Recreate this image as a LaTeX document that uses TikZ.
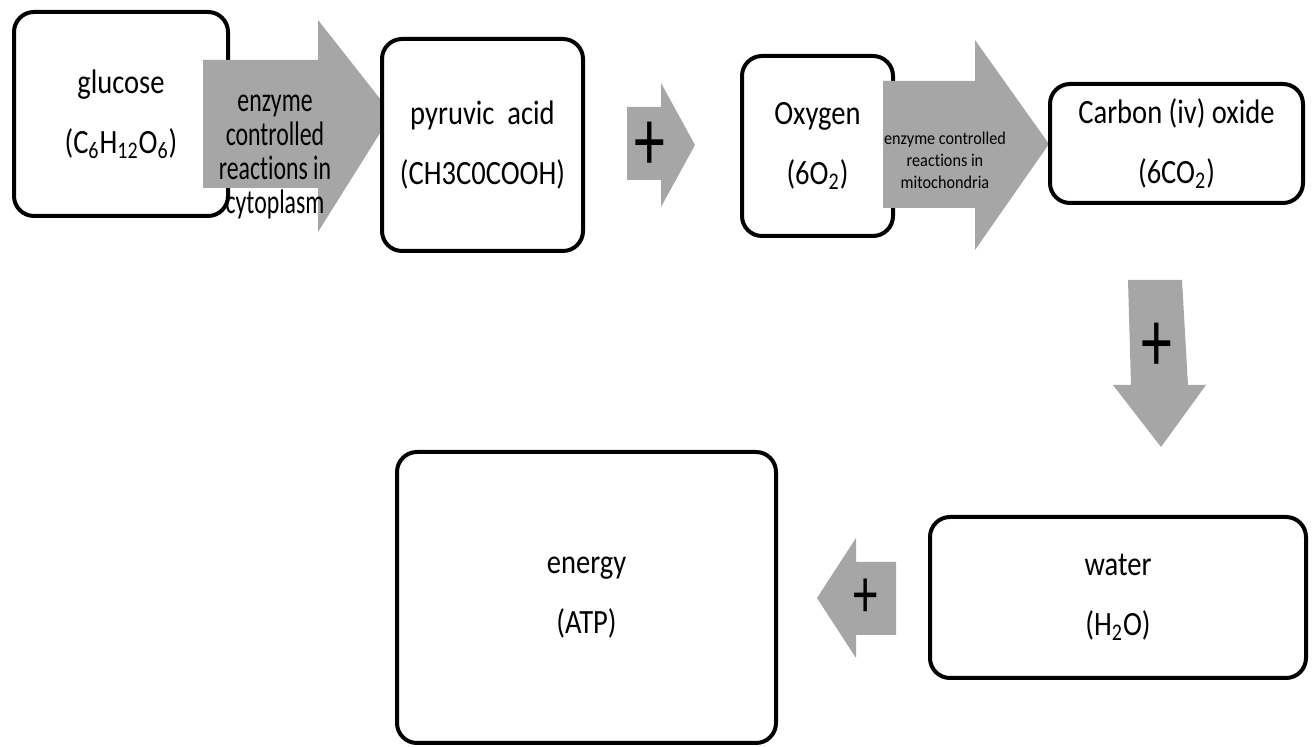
\documentclass[tikz,border=0pt]{standalone}
\usepackage{fontspec}
\setmainfont{Carlito}[FakeStretch=0.84, Ligatures=NoCommon]
\newfontfamily\cytofont{Carlito}[FakeStretch=0.7, Ligatures=NoCommon]
\newfontfamily\mitofont{Carlito}[FakeStretch=0.9, Ligatures=NoCommon]
\newfontfamily\plusfont{Carlito}[FakeStretch=0.7]
\usepackage{tikz}
\usetikzlibrary{positioning}

\begin{document}
\begin{tikzpicture}[x=0.5pt, y=-0.5pt,
	box/.style={draw, rectangle, rounded corners=10pt, line width=2pt, fill=white, align=center, font=\fontsize{17}{30}\selectfont},
	blockarrow/.style={fill=black!35},
	pluslabel/.style={inner sep=0pt, font=\plusfont\fontsize{44}{44}\selectfont}]
	\useasboundingbox (0,0) rectangle (1314,747);
	\node[box, minimum width=107pt, minimum height=102pt] (glucose) at (121,114) {glucose\\(C\textsubscript{6}H\textsubscript{12}O\textsubscript{6})};
	\node[box, minimum width=75.5pt, minimum height=90pt] (oxygen) at (817.5,146) {Oxygen\\(6O\textsubscript{2})};
	\node[box, minimum width=188pt, minimum height=80.5pt] (water) at (1118,597.5) {water\\(H\textsubscript{2}O)};
	% block arrows
	\fill[blockarrow] (203,60) -- (318,60) -- (318,20) -- (392,114) -- (318,232) -- (318,188) -- (203,188) -- cycle;
	\fill[blockarrow] (627,107) -- (661,107) -- (661,83) -- (695,145) -- (661,207) -- (661,180) -- (627,180) -- cycle;
	\fill[blockarrow] (883,81) -- (975,81) -- (975,40) -- (1049,144) -- (975,250) -- (975,208) -- (883,208) -- cycle;
	\fill[blockarrow] (1128,280) -- (1182,280) -- (1188,385) -- (1206,385) -- (1161,447) -- (1113,385) -- (1131,385) -- cycle;
	\fill[blockarrow] (896,562) -- (856,562) -- (856,538) -- (817,598) -- (856,658) -- (856,635) -- (896,635) -- cycle;
	\node[align=center, inner sep=0pt, font=\cytofont\fontsize{17}{17}\selectfont] (cytoplasm) at (275,157) {enzyme\\controlled\\reactions in\\cytoplasm};
	\node[align=center, inner sep=0pt, font=\mitofont\fontsize{9}{11}\selectfont] (mitochondria) at (945,160) {enzyme controlled\\reactions in\\mitochondria};
	\node[pluslabel] (plus1) at (650,146) {+};
	\node[pluslabel] (plus2) at (1157,347) {+};
	\node[pluslabel, font=\plusfont\fontsize{35}{35}\selectfont] (plus3) at (866,598) {+};
	% boxes over the arrow tips
	\node[box, minimum width=100.5pt, minimum height=106pt] (pyruvic) at (482.5,145) {pyruvic~ acid\\(CH3C0COOH)};
	\node[box, minimum width=126.5pt, minimum height=59.5pt] (carbon) at (1176.5,143.5) {Carbon (iv) oxide\\(6CO\textsubscript{2})};
	\node[box, minimum width=189.5pt, minimum height=145.5pt] (energy) at (586.5,597.5) {energy\\(ATP)};
\end{tikzpicture}
\end{document}
